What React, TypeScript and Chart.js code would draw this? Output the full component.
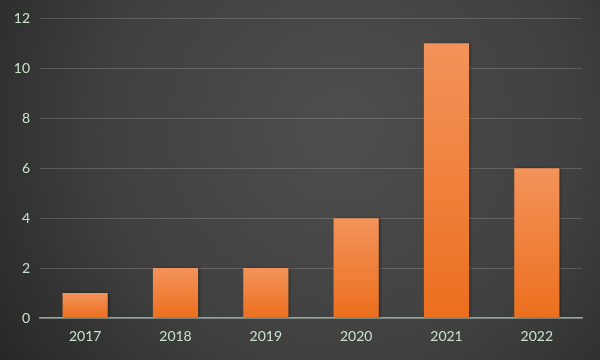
import React, { useEffect, useRef } from "react";
import { Chart, registerables } from "chart.js";

Chart.register(...registerables);

const categories = ["2017", "2018", "2019", "2020", "2021", "2022"];
const values = [1, 2, 2, 4, 11, 6];
const yTicks = [0, 2, 4, 6, 8, 10, 12];

const bgPlugin = {
  id: "bgPlugin",
  beforeDraw(chart: any) {
    const { ctx, width, height } = chart;
    ctx.save();
    const g = ctx.createRadialGradient(340, 130, 10, 340, 130, 420);
    g.addColorStop(0, "#4d4d4d");
    g.addColorStop(0.55, "#404040");
    g.addColorStop(1, "#262626");
    ctx.fillStyle = g;
    ctx.fillRect(0, 0, width, height);
    ctx.restore();
  },
  beforeDatasetsDraw(chart: any) {
    const ctx = chart.ctx;
    ctx.save();
    ctx.shadowColor = "rgba(0,0,0,0.35)";
    ctx.shadowBlur = 3;
    ctx.shadowOffsetX = 2;
    ctx.shadowOffsetY = 0;
  },
  afterDatasetsDraw(chart: any) {
    chart.ctx.restore();
  },
};

export default function App() {
  const ref = useRef<HTMLCanvasElement>(null);
  useEffect(() => {
    document.body.style.margin = "0";
    const canvas = ref.current!;
    const ctx = canvas.getContext("2d")!;
    const chart = new Chart(ctx, {
      type: "bar",
      data: {
        labels: categories,
        datasets: [
          {
            data: values,
            backgroundColor: (c: any) => {
              const ys = c.chart.scales && c.chart.scales.y;
              if (!ys || c.raw == null) return "#ef7a30";
              const top = ys.getPixelForValue(c.raw);
              const bottom = ys.getPixelForValue(0);
              if (!isFinite(top) || !isFinite(bottom) || top === bottom) return "#ef7a30";
              const g = c.chart.ctx.createLinearGradient(0, top, 0, bottom);
              g.addColorStop(0, "#f3935a");
              g.addColorStop(1, "#ec6f1e");
              return g;
            },
            borderWidth: 0,
            categoryPercentage: 1,
            barPercentage: 0.5,
          },
        ],
      },
      options: {
        responsive: false,
        animation: false,
        events: [],
        layout: { padding: { top: 18, right: 18, left: 0, bottom: 0 } },
        plugins: { legend: { display: false }, tooltip: { enabled: false } },
        scales: {
          x: {
            grid: { display: false, drawTicks: false },
            border: { display: true, color: "#8fa898", width: 1.5 },
            ticks: {
              color: "#c8e2cb",
              font: { family: "Lato", size: 14 },
              padding: 10,
            },
            afterFit: (s: any) => {
              s.height = 42;
            },
          },
          y: {
            min: 0,
            max: 12,
            afterBuildTicks: (s: any) => {
              s.ticks = yTicks.map((v) => ({ value: v }));
            },
            grid: { color: "rgba(255,255,255,0.16)", drawTicks: false, lineWidth: 1 },
            border: { display: false },
            ticks: {
              color: "#c8e2cb",
              font: { family: "Lato", size: 14 },
              padding: 10,
            },
            afterFit: (s: any) => {
              s.width = 40;
            },
          },
        },
      },
      plugins: [bgPlugin],
    });
    return () => chart.destroy();
  }, []);
  return (
    <div style={{ width: 600, height: 360 }}>
      <canvas ref={ref} width={600} height={360} />
    </div>
  );
}
